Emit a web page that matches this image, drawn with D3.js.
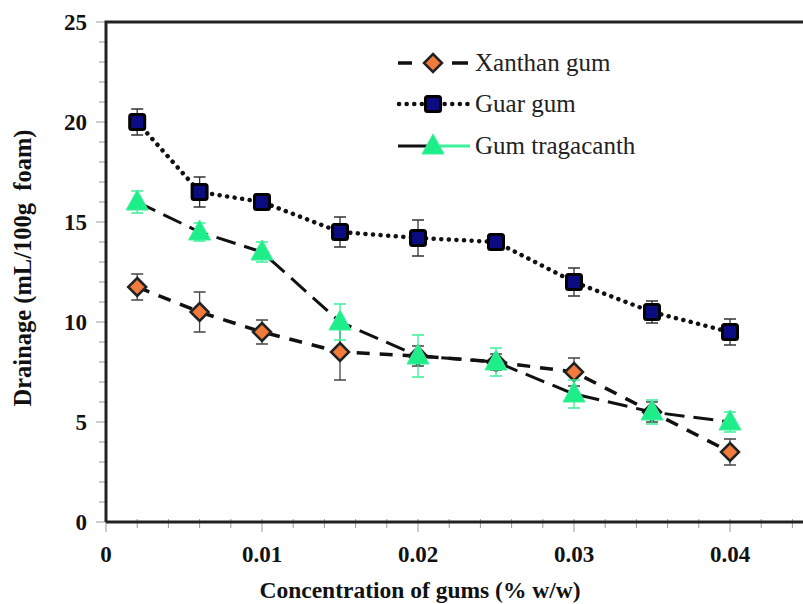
<!DOCTYPE html>
<html>
<head>
<meta charset="utf-8">
<script src="https://cdn.jsdelivr.net/npm/d3@7"></script>
<style>
  body { margin: 0; background: #fff; }
  svg { display: block; }
</style>
</head>
<body>
<svg id="chart"></svg>
<script>
// concentration of gums (% w/w)
var conc = [0.002, 0.006, 0.01, 0.015, 0.02, 0.025, 0.03, 0.035, 0.04];

var xanthan = [11.75, 10.5, 9.5, 8.5, 8.3, 8.0, 7.5, 5.5, 3.5];
var xanthanErr = [0.65, 1.0, 0.6, 1.4, 0.5, 0.4, 0.7, 0.5, 0.65];

var guar = [20, 16.5, 16, 14.5, 14.2, 14, 12, 10.5, 9.5];
var guarErr = [0.65, 0.75, 0.3, 0.75, 0.9, 0.3, 0.7, 0.55, 0.65];

var tragacanth = [16, 14.5, 13.5, 10, 8.3, 8, 6.4, 5.5, 5];
var tragacanthErr = [0.55, 0.45, 0.5, 0.9, 1.05, 0.7, 0.7, 0.6, 0.5];

var xTicks = [0, 0.01, 0.02, 0.03, 0.04];
var yTicks = [0, 5, 10, 15, 20, 25];

var width = 803, height = 604;
var svg = d3.select("#chart").attr("width", width).attr("height", height);

var x = d3.scaleLinear().domain([0, 0.045]).range([106, 808]);
var y = d3.scaleLinear().domain([0, 25]).range([522, 22]);

var serif = "'Liberation Serif', 'DejaVu Serif', serif";

// minor + major ticks
var yMinor = d3.range(0, 26, 1);
svg.append("g").selectAll("line")
  .data(yMinor)
  .join("line")
    .attr("x1", d => d % 5 === 0 ? 96 : 99)
    .attr("x2", 106)
    .attr("y1", d => y(d))
    .attr("y2", d => y(d))
    .attr("stroke", "#999")
    .attr("stroke-width", 1);

var xMinor = d3.range(0, 23).map(i => i * 0.002);
svg.append("g").selectAll("line")
  .data(xMinor)
  .join("line")
    .attr("x1", d => x(d))
    .attr("x2", d => x(d))
    .attr("y1", 519)
    .attr("y2", (d, i) => i % 5 === 0 ? 532 : 528)
    .attr("stroke", "#999")
    .attr("stroke-width", 1);

// frame
svg.append("path")
  .attr("d", "M" + x(0) + "," + y(0) + "H" + width + "M" + x(0) + "," + y(0) + "V" + y(25) + "H" + width)
  .attr("fill", "none")
  .attr("stroke", "#222")
  .attr("stroke-width", 3);

// tick labels
svg.append("g").selectAll("text")
  .data(yTicks)
  .join("text")
    .attr("x", 87)
    .attr("y", d => y(d) + 8)
    .attr("text-anchor", "end")
    .attr("font-family", serif)
    .attr("font-weight", "bold")
    .attr("font-size", 23)
    .attr("fill", "#111")
    .text(d => d);

svg.append("g").selectAll("text")
  .data(xTicks)
  .join("text")
    .attr("x", d => x(d))
    .attr("y", 562)
    .attr("text-anchor", "middle")
    .attr("font-family", serif)
    .attr("font-weight", "bold")
    .attr("font-size", 23)
    .attr("fill", "#111")
    .text(d => d);

// axis titles
svg.append("text")
  .attr("x", 420)
  .attr("y", 598)
  .attr("text-anchor", "middle")
  .attr("font-family", serif)
  .attr("font-weight", "bold")
  .attr("font-size", 23.5)
  .attr("fill", "#111")
  .text("Concentration of gums (% w/w)");

svg.append("text")
  .attr("transform", "translate(31,268) rotate(-90)")
  .attr("text-anchor", "middle")
  .attr("font-family", serif)
  .attr("font-weight", "bold")
  .attr("font-size", 24.5)
  .attr("fill", "#111")
  .attr("xml:space", "preserve")
  .text("Drainage (mL/100g  foam)");

var line = d3.line().x((d, i) => x(conc[i])).y(d => y(d));

// marker shapes
function diamond(g) {
  g.append("path").attr("d", "M0,-9L9,0L0,9L-9,0Z")
    .attr("fill", "#F07B3C").attr("stroke", "#222").attr("stroke-width", 2.5);
}
function square(g) {
  g.append("rect").attr("x", -7.5).attr("y", -7.5).attr("width", 15).attr("height", 15).attr("rx", 2)
    .attr("fill", "#0B0B82").attr("stroke", "#000").attr("stroke-width", 3);
}
function triangle(g) {
  g.append("path").attr("d", "M0,-12L11,8L-11,8Z")
    .attr("fill", "#1DEE8A").attr("stroke", "#3DF09A").attr("stroke-width", 1);
}

function errorBars(vals, errs, color) {
  var g = svg.append("g").attr("stroke", color).attr("stroke-width", 1.3).attr("fill", "none");
  g.selectAll("path")
    .data(vals)
    .join("path")
      .attr("d", (d, i) => {
        var cx = x(conc[i]), t = y(d + errs[i]), b = y(d - errs[i]);
        return "M" + (cx - 6) + "," + t + "H" + (cx + 6) + "M" + cx + "," + t + "V" + b + "M" + (cx - 6) + "," + b + "H" + (cx + 6);
      });
}

function markers(vals, shape) {
  svg.append("g").selectAll("g")
    .data(vals)
    .join("g")
      .attr("transform", (d, i) => "translate(" + x(conc[i]) + "," + y(d) + ")")
      .each(function() { shape(d3.select(this)); });
}

// Guar gum
svg.append("path").datum(guar).attr("d", line)
  .attr("fill", "none").attr("stroke", "#111").attr("stroke-width", 4.5)
  .attr("stroke-linecap", "round").attr("stroke-dasharray", "0.1,7.5");
errorBars(guar, guarErr, "#333");
markers(guar, square);

// Xanthan gum
svg.append("path").datum(xanthan).attr("d", line)
  .attr("fill", "none").attr("stroke", "#111").attr("stroke-width", 3.5)
  .attr("stroke-dasharray", "13,10");
errorBars(xanthan, xanthanErr, "#444");
markers(xanthan, diamond);

// Gum tragacanth
svg.append("path").datum(tragacanth).attr("d", line)
  .attr("fill", "none").attr("stroke", "#111").attr("stroke-width", 3)
  .attr("stroke-dasharray", "20,9");
errorBars(tragacanth, tragacanthErr, "#3DEE98");
markers(tragacanth, triangle);

// legend
var legend = svg.append("g");
var rows = [
  {name: "Xanthan gum", y: 63},
  {name: "Guar gum", y: 104},
  {name: "Gum tragacanth", y: 146}
];

legend.append("path").attr("d", "M398,63H412M452,63H468")
  .attr("stroke", "#111").attr("stroke-width", 3.5);
legend.append("path").attr("d", "M399,104H468")
  .attr("stroke", "#111").attr("stroke-width", 4.5)
  .attr("stroke-linecap", "round").attr("stroke-dasharray", "0.1,7.5");
legend.append("path").attr("d", "M398,146H433")
  .attr("stroke", "#111").attr("stroke-width", 3);
legend.append("path").attr("d", "M433,146H470")
  .attr("stroke", "#3DF09A").attr("stroke-width", 3);

[diamond, square, triangle].forEach((shape, i) => {
  var g = legend.append("g").attr("transform", "translate(433," + rows[i].y + ")");
  shape(g);
});

legend.selectAll("text")
  .data(rows)
  .join("text")
    .attr("x", 475)
    .attr("y", d => d.y + 8)
    .attr("font-family", serif)
    .attr("font-size", 25)
    .attr("fill", "#222")
    .text(d => d.name);
</script>
</body>
</html>
